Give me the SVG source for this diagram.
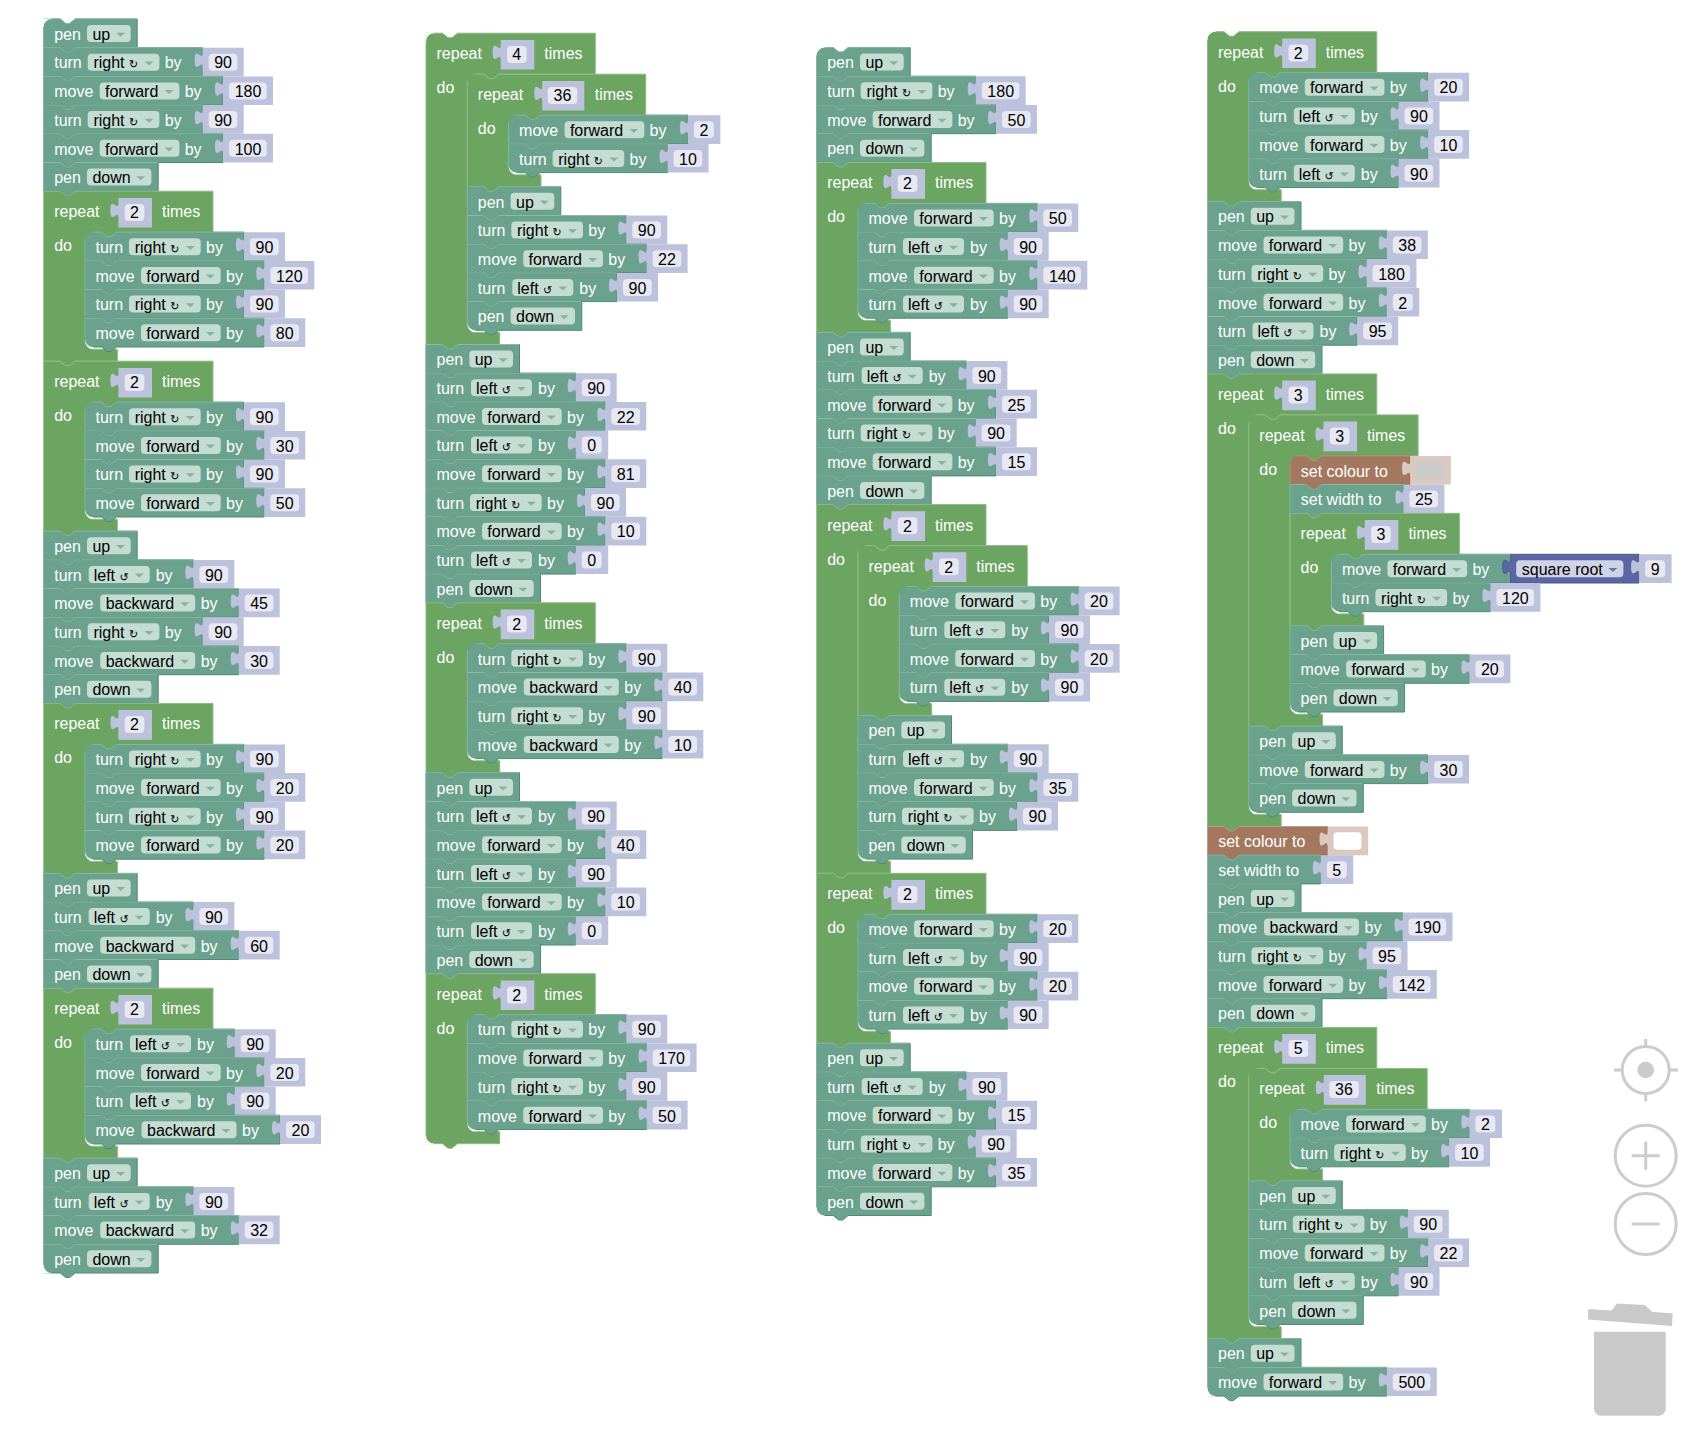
<svg xmlns="http://www.w3.org/2000/svg" width="1700" height="1436" viewBox="0 0 1700 1436">
<style>
text{font:16px "Liberation Sans","DejaVu Sans",sans-serif;fill:#fff}
.f{fill:#000}
.n{fill:#000;text-anchor:middle}
.r{font-size:11px}
.t{fill:#6aa28d;stroke:#4f8a75;stroke-width:1}
.b{fill:#a4785f;stroke:#8a5f48;stroke-width:1}
.l{fill:none;stroke:#8cb9a8;stroke-width:1}
.lb{fill:none;stroke:#bd9a86;stroke-width:1}
.c{fill:#6ca461;stroke:#8fbb86;stroke-width:1}
.i{fill:#bdc2dc}
.x{fill:#e7e8f2}
.d{fill:#c4dcd1}
.a{fill:#85b3a1}
.g{fill:#6ca461}
.w{fill:#fff}
.u{fill:#ccc}
.s{fill:none;stroke:#ccc;stroke-width:3}
</style>
<defs>
<g id="pu"><path class="t" d="M0-20.7H16.5l5.5 4.5h4l5.5-4.5H93.5V8H31.5l-5.5 4.5h-4l-5.5-4.5H0Z"/><path class="l" d="M0 8V-20.7H16.5l5.5 4.5h4l5.5-4.5H93"/><rect class="d" x="43.3" y="-14.7" width="43.7" height="17" rx="4"/><path class="a" d="M72.5-7h9l-4.5 4z"/></g>
<g id="pd"><path class="t" d="M0-20.7H16.5l5.5 4.5h4l5.5-4.5H114.5V8H31.5l-5.5 4.5h-4l-5.5-4.5H0Z"/><path class="l" d="M0 8V-20.7H16.5l5.5 4.5h4l5.5-4.5H114"/><rect class="d" x="43.3" y="-14.7" width="64.4" height="17" rx="4"/><path class="a" d="M92.5-7h9l-4.5 4z"/></g>
<g id="tr"><path class="t" d="M0-20.7H16.5l5.5 4.5h4l5.5-4.5H159V8H31.5l-5.5 4.5h-4l-5.5-4.5H0Z"/><path class="l" d="M0 8V-20.7H16.5l5.5 4.5h4l5.5-4.5H159"/><rect class="d" x="44" y="-14.7" width="71.7" height="17" rx="4"/><path class="a" d="M100.8-7h9l-4.5 4z"/></g>
<g id="tl"><path class="t" d="M0-20.7H16.5l5.5 4.5h4l5.5-4.5H149.7V8H31.5l-5.5 4.5h-4l-5.5-4.5H0Z"/><path class="l" d="M0 8V-20.7H16.5l5.5 4.5h4l5.5-4.5H149.7"/><rect class="d" x="45" y="-14.7" width="61" height="17" rx="4"/><path class="a" d="M91-7h9l-4.5 4z"/></g>
<g id="mf"><path class="t" d="M0-20.7H16.5l5.5 4.5h4l5.5-4.5H179.3V8H31.5l-5.5 4.5h-4l-5.5-4.5H0Z"/><path class="l" d="M0 8V-20.7H16.5l5.5 4.5h4l5.5-4.5H179.3"/><rect class="d" x="56" y="-14.7" width="79.7" height="17" rx="4"/><path class="a" d="M120.8-7h9l-4.5 4z"/></g>
<g id="mb"><path class="t" d="M0-20.7H16.5l5.5 4.5h4l5.5-4.5H195V8H31.5l-5.5 4.5h-4l-5.5-4.5H0Z"/><path class="l" d="M0 8V-20.7H16.5l5.5 4.5h4l5.5-4.5H195"/><rect class="d" x="56.5" y="-14.7" width="95" height="17" rx="4"/><path class="a" d="M136.5-7h9l-4.5 4z"/></g>
<g id="sw"><path class="t" d="M0-20.7H16.5l5.5 4.5h4l5.5-4.5H113.3V8H31.5l-5.5 4.5h-4l-5.5-4.5H0Z"/><path class="l" d="M0 8V-20.7H16.5l5.5 4.5h4l5.5-4.5H113.3"/></g>
<g id="sc"><path class="b" d="M0-20.7H16.5l5.5 4.5h4l5.5-4.5H120V8H31.5l-5.5 4.5h-4l-5.5-4.5H0Z"/><path class="lb" d="M0 8V-20.7H16.5l5.5 4.5h4l5.5-4.5H120"/><path fill="#dbc9bf" d="M160.7-20.7H120V-15.7c0 10-8-8-8 7.5s8-2.5 8 7.5V8H160.7Z"/></g>
<g id="v1"><path class="i" d="M32.5-20.7H0V-15.7c0 10-8-8-8 7.5s8-2.5 8 7.5V8H32.5Z"/><rect class="x" x="6" y="-14.7" width="20" height="17" rx="4"/></g>
<g id="v2"><path class="i" d="M41-20.7H0V-15.7c0 10-8-8-8 7.5s8-2.5 8 7.5V8H41Z"/><rect class="x" x="6" y="-14.7" width="28.7" height="17" rx="4"/></g>
<g id="v3"><path class="i" d="M50-20.7H0V-15.7c0 10-8-8-8 7.5s8-2.5 8 7.5V8H50Z"/><rect class="x" x="6" y="-14.7" width="37.7" height="17" rx="4"/></g>
<g id="r1"><path class="i" d="M33.6 6.7H0V11.7c0 10-8-8-8 7.5s8-2.5 8 7.5V36.4H33.6Z"/><rect class="x" x="6.3" y="12.7" width="19.7" height="17" rx="4"/></g>
<g id="r2"><path class="i" d="M42 6.7H0V11.7c0 10-8-8-8 7.5s8-2.5 8 7.5V36.4H42Z"/><rect class="x" x="5.4" y="12.7" width="29.6" height="17" rx="4"/></g>
<g id="tr2"><use href="#tr"/><use href="#v2" x="159"/></g>
<g id="tr3"><use href="#tr"/><use href="#v3" x="159"/></g>
<g id="tl1"><use href="#tl"/><use href="#v1" x="149.7"/></g>
<g id="tl2"><use href="#tl"/><use href="#v2" x="149.7"/></g>
<g id="mf1"><use href="#mf"/><use href="#v1" x="179.3"/></g>
<g id="mf2"><use href="#mf"/><use href="#v2" x="179.3"/></g>
<g id="mf3"><use href="#mf"/><use href="#v3" x="179.3"/></g>
<g id="mb2"><use href="#mb"/><use href="#v2" x="195"/></g>
<g id="mb3"><use href="#mb"/><use href="#v3" x="195"/></g>
<g id="sw1"><use href="#sw"/><use href="#v1" x="113.3"/></g>
<g id="sw2"><use href="#sw"/><use href="#v2" x="113.3"/></g>
<path id="tw" class="w" d="M-.6-12.7V-21.3H8V-20.7A8 8 0 0 0 0-12.7Z"/>
<path id="tg" class="g" d="M-.6-12.7V-21.3H8V-20.7A8 8 0 0 0 0-12.7Z"/>
<path id="bw" class="w" d="M-.6 0V8.6H8V8A8 8 0 0 1 0 0Z"/>
<g id="bg"><path class="g" d="M-.6 0V8.5H8A8 8 0 0 1 0 0Z"/><path class="w" d="M0 0A8 8 0 0 0 8 8V10A8 8 0 0 1 0 2Z"/></g>
</defs>
<rect width="1700" height="1436" fill="#fff"/>

<g id="stack1">
<g id="n1" transform="translate(43.7 39.7)"><use href="#pu"/><use href="#tw"/><text x="10.5">pen</text><text class="f" x="48.7">up</text></g>
<g id="n2" transform="translate(43.7 68.4)"><use href="#tr2"/><text x="10.5">turn</text><text class="f" x="49.7">right <tspan class="r">↻</tspan></text><text x="121">by</text><text class="n" x="179.4">90</text></g>
<g id="n3" transform="translate(43.7 97.1)"><use href="#mf3"/><text x="10.5">move</text><text class="f" x="61.3">forward</text><text x="141">by</text><text class="n" x="204.3">180</text></g>
<g id="n4" transform="translate(43.7 125.8)"><use href="#tr2"/><text x="10.5">turn</text><text class="f" x="49.7">right <tspan class="r">↻</tspan></text><text x="121">by</text><text class="n" x="179.4">90</text></g>
<g id="n5" transform="translate(43.7 154.5)"><use href="#mf3"/><text x="10.5">move</text><text class="f" x="61.3">forward</text><text x="141">by</text><text class="n" x="204.3">100</text></g>
<g id="n6" transform="translate(43.7 183.2)"><use href="#pd"/><text x="10.5">pen</text><text class="f" x="48.7">down</text></g>
<g id="n7" transform="translate(43.7 191.2)"><path class="c" d="M0 0H16.5l5.5 4.5h4l5.5-4.5H169.3V41H72.8l-5.5 4.5h-4l-5.5-4.5H49.3a8 8 0 0 0-8 8V150a8 8 0 0 0 8 8H73.7V170H31.5l-5.5 4.5h-4l-5.5-4.5H0Z"/><use href="#r1" x="74.7"/><text x="10.5" y="26">repeat</text><text class="n" x="90.8" y="27">2</text><text x="118.3" y="26">times</text><text x="10.5" y="60">do</text></g>
<g id="n8" transform="translate(85 252.9)"><use href="#tr2"/><use href="#tg"/><text x="10.5">turn</text><text class="f" x="49.7">right <tspan class="r">↻</tspan></text><text x="121">by</text><text class="n" x="179.4">90</text></g>
<g id="n9" transform="translate(85 281.6)"><use href="#mf3"/><text x="10.5">move</text><text class="f" x="61.3">forward</text><text x="141">by</text><text class="n" x="204.3">120</text></g>
<g id="n10" transform="translate(85 310.3)"><use href="#tr2"/><text x="10.5">turn</text><text class="f" x="49.7">right <tspan class="r">↻</tspan></text><text x="121">by</text><text class="n" x="179.4">90</text></g>
<g id="n11" transform="translate(85 339)"><use href="#mf2"/><use href="#bg"/><text x="10.5">move</text><text class="f" x="61.3">forward</text><text x="141">by</text><text class="n" x="199.7">80</text></g>
<g id="n12" transform="translate(43.7 361.2)"><path class="c" d="M0 0H16.5l5.5 4.5h4l5.5-4.5H169.3V41H72.8l-5.5 4.5h-4l-5.5-4.5H49.3a8 8 0 0 0-8 8V150a8 8 0 0 0 8 8H73.7V170H31.5l-5.5 4.5h-4l-5.5-4.5H0Z"/><use href="#r1" x="74.7"/><text x="10.5" y="26">repeat</text><text class="n" x="90.8" y="27">2</text><text x="118.3" y="26">times</text><text x="10.5" y="60">do</text></g>
<g id="n13" transform="translate(85 422.9)"><use href="#tr2"/><use href="#tg"/><text x="10.5">turn</text><text class="f" x="49.7">right <tspan class="r">↻</tspan></text><text x="121">by</text><text class="n" x="179.4">90</text></g>
<g id="n14" transform="translate(85 451.6)"><use href="#mf2"/><text x="10.5">move</text><text class="f" x="61.3">forward</text><text x="141">by</text><text class="n" x="199.7">30</text></g>
<g id="n15" transform="translate(85 480.3)"><use href="#tr2"/><text x="10.5">turn</text><text class="f" x="49.7">right <tspan class="r">↻</tspan></text><text x="121">by</text><text class="n" x="179.4">90</text></g>
<g id="n16" transform="translate(85 509)"><use href="#mf2"/><use href="#bg"/><text x="10.5">move</text><text class="f" x="61.3">forward</text><text x="141">by</text><text class="n" x="199.7">50</text></g>
<g id="n17" transform="translate(43.7 551.9)"><use href="#pu"/><text x="10.5">pen</text><text class="f" x="48.7">up</text></g>
<g id="n18" transform="translate(43.7 580.6)"><use href="#tl2"/><text x="10.5">turn</text><text class="f" x="50">left <tspan class="r">↺</tspan></text><text x="112">by</text><text class="n" x="170.1">90</text></g>
<g id="n19" transform="translate(43.7 609.3)"><use href="#mb2"/><text x="10.5">move</text><text class="f" x="62">backward</text><text x="157">by</text><text class="n" x="215.4">45</text></g>
<g id="n20" transform="translate(43.7 638)"><use href="#tr2"/><text x="10.5">turn</text><text class="f" x="49.7">right <tspan class="r">↻</tspan></text><text x="121">by</text><text class="n" x="179.4">90</text></g>
<g id="n21" transform="translate(43.7 666.7)"><use href="#mb2"/><text x="10.5">move</text><text class="f" x="62">backward</text><text x="157">by</text><text class="n" x="215.4">30</text></g>
<g id="n22" transform="translate(43.7 695.4)"><use href="#pd"/><text x="10.5">pen</text><text class="f" x="48.7">down</text></g>
<g id="n23" transform="translate(43.7 703.4)"><path class="c" d="M0 0H16.5l5.5 4.5h4l5.5-4.5H169.3V41H72.8l-5.5 4.5h-4l-5.5-4.5H49.3a8 8 0 0 0-8 8V150a8 8 0 0 0 8 8H73.7V170H31.5l-5.5 4.5h-4l-5.5-4.5H0Z"/><use href="#r1" x="74.7"/><text x="10.5" y="26">repeat</text><text class="n" x="90.8" y="27">2</text><text x="118.3" y="26">times</text><text x="10.5" y="60">do</text></g>
<g id="n24" transform="translate(85 765.1)"><use href="#tr2"/><use href="#tg"/><text x="10.5">turn</text><text class="f" x="49.7">right <tspan class="r">↻</tspan></text><text x="121">by</text><text class="n" x="179.4">90</text></g>
<g id="n25" transform="translate(85 793.8)"><use href="#mf2"/><text x="10.5">move</text><text class="f" x="61.3">forward</text><text x="141">by</text><text class="n" x="199.7">20</text></g>
<g id="n26" transform="translate(85 822.5)"><use href="#tr2"/><text x="10.5">turn</text><text class="f" x="49.7">right <tspan class="r">↻</tspan></text><text x="121">by</text><text class="n" x="179.4">90</text></g>
<g id="n27" transform="translate(85 851.2)"><use href="#mf2"/><use href="#bg"/><text x="10.5">move</text><text class="f" x="61.3">forward</text><text x="141">by</text><text class="n" x="199.7">20</text></g>
<g id="n28" transform="translate(43.7 894.1)"><use href="#pu"/><text x="10.5">pen</text><text class="f" x="48.7">up</text></g>
<g id="n29" transform="translate(43.7 922.8)"><use href="#tl2"/><text x="10.5">turn</text><text class="f" x="50">left <tspan class="r">↺</tspan></text><text x="112">by</text><text class="n" x="170.1">90</text></g>
<g id="n30" transform="translate(43.7 951.5)"><use href="#mb2"/><text x="10.5">move</text><text class="f" x="62">backward</text><text x="157">by</text><text class="n" x="215.4">60</text></g>
<g id="n31" transform="translate(43.7 980.2)"><use href="#pd"/><text x="10.5">pen</text><text class="f" x="48.7">down</text></g>
<g id="n32" transform="translate(43.7 988.2)"><path class="c" d="M0 0H16.5l5.5 4.5h4l5.5-4.5H169.3V41H72.8l-5.5 4.5h-4l-5.5-4.5H49.3a8 8 0 0 0-8 8V150a8 8 0 0 0 8 8H73.7V170H31.5l-5.5 4.5h-4l-5.5-4.5H0Z"/><use href="#r1" x="74.7"/><text x="10.5" y="26">repeat</text><text class="n" x="90.8" y="27">2</text><text x="118.3" y="26">times</text><text x="10.5" y="60">do</text></g>
<g id="n33" transform="translate(85 1049.9)"><use href="#tl2"/><use href="#tg"/><text x="10.5">turn</text><text class="f" x="50">left <tspan class="r">↺</tspan></text><text x="112">by</text><text class="n" x="170.1">90</text></g>
<g id="n34" transform="translate(85 1078.6)"><use href="#mf2"/><text x="10.5">move</text><text class="f" x="61.3">forward</text><text x="141">by</text><text class="n" x="199.7">20</text></g>
<g id="n35" transform="translate(85 1107.3)"><use href="#tl2"/><text x="10.5">turn</text><text class="f" x="50">left <tspan class="r">↺</tspan></text><text x="112">by</text><text class="n" x="170.1">90</text></g>
<g id="n36" transform="translate(85 1136)"><use href="#mb2"/><use href="#bg"/><text x="10.5">move</text><text class="f" x="62">backward</text><text x="157">by</text><text class="n" x="215.4">20</text></g>
<g id="n37" transform="translate(43.7 1178.9)"><use href="#pu"/><text x="10.5">pen</text><text class="f" x="48.7">up</text></g>
<g id="n38" transform="translate(43.7 1207.6)"><use href="#tl2"/><text x="10.5">turn</text><text class="f" x="50">left <tspan class="r">↺</tspan></text><text x="112">by</text><text class="n" x="170.1">90</text></g>
<g id="n39" transform="translate(43.7 1236.3)"><use href="#mb2"/><text x="10.5">move</text><text class="f" x="62">backward</text><text x="157">by</text><text class="n" x="215.4">32</text></g>
<g id="n40" transform="translate(43.7 1265)"><use href="#pd"/><use href="#bw"/><text x="10.5">pen</text><text class="f" x="48.7">down</text></g>
</g>

<g id="stack2">
<g id="n41" transform="translate(426 33.2)"><path class="c" d="M0 0H16.5l5.5 4.5h4l5.5-4.5H169.3V41H72.8l-5.5 4.5h-4l-5.5-4.5H49.3a8 8 0 0 0-8 8V291.3a8 8 0 0 0 8 8H73.7V311.3H31.5l-5.5 4.5h-4l-5.5-4.5H0Z"/><use href="#tw" y="20.7"/><use href="#r1" x="74.7"/><text x="10.5" y="26">repeat</text><text class="n" x="90.8" y="27">4</text><text x="118.3" y="26">times</text><text x="10.5" y="60">do</text></g>
<g id="n42" transform="translate(467.3 74.2)"><path class="c" d="M0 0H16.5l5.5 4.5h4l5.5-4.5H178.4V41H72.8l-5.5 4.5h-4l-5.5-4.5H49.3a8 8 0 0 0-8 8V92.6a8 8 0 0 0 8 8H73.7V112.6H31.5l-5.5 4.5h-4l-5.5-4.5H0Z"/><use href="#tg" y="20.7"/><use href="#r2" x="75"/><text x="10.5" y="26">repeat</text><text class="n" x="95.2" y="27">36</text><text x="127.4" y="26">times</text><text x="10.5" y="60">do</text></g>
<g id="n43" transform="translate(508.6 135.9)"><use href="#mf1"/><use href="#tg"/><text x="10.5">move</text><text class="f" x="61.3">forward</text><text x="141">by</text><text class="n" x="195.3">2</text></g>
<g id="n44" transform="translate(508.6 164.6)"><use href="#tr2"/><use href="#bg"/><text x="10.5">turn</text><text class="f" x="49.7">right <tspan class="r">↻</tspan></text><text x="121">by</text><text class="n" x="179.4">10</text></g>
<g id="n45" transform="translate(467.3 207.5)"><use href="#pu"/><text x="10.5">pen</text><text class="f" x="48.7">up</text></g>
<g id="n46" transform="translate(467.3 236.2)"><use href="#tr2"/><text x="10.5">turn</text><text class="f" x="49.7">right <tspan class="r">↻</tspan></text><text x="121">by</text><text class="n" x="179.4">90</text></g>
<g id="n47" transform="translate(467.3 264.9)"><use href="#mf2"/><text x="10.5">move</text><text class="f" x="61.3">forward</text><text x="141">by</text><text class="n" x="199.7">22</text></g>
<g id="n48" transform="translate(467.3 293.6)"><use href="#tl2"/><text x="10.5">turn</text><text class="f" x="50">left <tspan class="r">↺</tspan></text><text x="112">by</text><text class="n" x="170.1">90</text></g>
<g id="n49" transform="translate(467.3 322.3)"><use href="#pd"/><use href="#bg"/><text x="10.5">pen</text><text class="f" x="48.7">down</text></g>
<g id="n50" transform="translate(426 365.2)"><use href="#pu"/><text x="10.5">pen</text><text class="f" x="48.7">up</text></g>
<g id="n51" transform="translate(426 393.9)"><use href="#tl2"/><text x="10.5">turn</text><text class="f" x="50">left <tspan class="r">↺</tspan></text><text x="112">by</text><text class="n" x="170.1">90</text></g>
<g id="n52" transform="translate(426 422.6)"><use href="#mf2"/><text x="10.5">move</text><text class="f" x="61.3">forward</text><text x="141">by</text><text class="n" x="199.7">22</text></g>
<g id="n53" transform="translate(426 451.3)"><use href="#tl1"/><text x="10.5">turn</text><text class="f" x="50">left <tspan class="r">↺</tspan></text><text x="112">by</text><text class="n" x="165.7">0</text></g>
<g id="n54" transform="translate(426 480)"><use href="#mf2"/><text x="10.5">move</text><text class="f" x="61.3">forward</text><text x="141">by</text><text class="n" x="199.7">81</text></g>
<g id="n55" transform="translate(426 508.7)"><use href="#tr2"/><text x="10.5">turn</text><text class="f" x="49.7">right <tspan class="r">↻</tspan></text><text x="121">by</text><text class="n" x="179.4">90</text></g>
<g id="n56" transform="translate(426 537.4)"><use href="#mf2"/><text x="10.5">move</text><text class="f" x="61.3">forward</text><text x="141">by</text><text class="n" x="199.7">10</text></g>
<g id="n57" transform="translate(426 566.1)"><use href="#tl1"/><text x="10.5">turn</text><text class="f" x="50">left <tspan class="r">↺</tspan></text><text x="112">by</text><text class="n" x="165.7">0</text></g>
<g id="n58" transform="translate(426 594.8)"><use href="#pd"/><text x="10.5">pen</text><text class="f" x="48.7">down</text></g>
<g id="n59" transform="translate(426 602.8)"><path class="c" d="M0 0H16.5l5.5 4.5h4l5.5-4.5H169.3V41H72.8l-5.5 4.5h-4l-5.5-4.5H49.3a8 8 0 0 0-8 8V150a8 8 0 0 0 8 8H73.7V170H31.5l-5.5 4.5h-4l-5.5-4.5H0Z"/><use href="#r1" x="74.7"/><text x="10.5" y="26">repeat</text><text class="n" x="90.8" y="27">2</text><text x="118.3" y="26">times</text><text x="10.5" y="60">do</text></g>
<g id="n60" transform="translate(467.3 664.5)"><use href="#tr2"/><use href="#tg"/><text x="10.5">turn</text><text class="f" x="49.7">right <tspan class="r">↻</tspan></text><text x="121">by</text><text class="n" x="179.4">90</text></g>
<g id="n61" transform="translate(467.3 693.2)"><use href="#mb2"/><text x="10.5">move</text><text class="f" x="62">backward</text><text x="157">by</text><text class="n" x="215.4">40</text></g>
<g id="n62" transform="translate(467.3 721.9)"><use href="#tr2"/><text x="10.5">turn</text><text class="f" x="49.7">right <tspan class="r">↻</tspan></text><text x="121">by</text><text class="n" x="179.4">90</text></g>
<g id="n63" transform="translate(467.3 750.6)"><use href="#mb2"/><use href="#bg"/><text x="10.5">move</text><text class="f" x="62">backward</text><text x="157">by</text><text class="n" x="215.4">10</text></g>
<g id="n64" transform="translate(426 793.5)"><use href="#pu"/><text x="10.5">pen</text><text class="f" x="48.7">up</text></g>
<g id="n65" transform="translate(426 822.2)"><use href="#tl2"/><text x="10.5">turn</text><text class="f" x="50">left <tspan class="r">↺</tspan></text><text x="112">by</text><text class="n" x="170.1">90</text></g>
<g id="n66" transform="translate(426 850.9)"><use href="#mf2"/><text x="10.5">move</text><text class="f" x="61.3">forward</text><text x="141">by</text><text class="n" x="199.7">40</text></g>
<g id="n67" transform="translate(426 879.6)"><use href="#tl2"/><text x="10.5">turn</text><text class="f" x="50">left <tspan class="r">↺</tspan></text><text x="112">by</text><text class="n" x="170.1">90</text></g>
<g id="n68" transform="translate(426 908.3)"><use href="#mf2"/><text x="10.5">move</text><text class="f" x="61.3">forward</text><text x="141">by</text><text class="n" x="199.7">10</text></g>
<g id="n69" transform="translate(426 937)"><use href="#tl1"/><text x="10.5">turn</text><text class="f" x="50">left <tspan class="r">↺</tspan></text><text x="112">by</text><text class="n" x="165.7">0</text></g>
<g id="n70" transform="translate(426 965.7)"><use href="#pd"/><text x="10.5">pen</text><text class="f" x="48.7">down</text></g>
<g id="n71" transform="translate(426 973.7)"><path class="c" d="M0 0H16.5l5.5 4.5h4l5.5-4.5H169.3V41H72.8l-5.5 4.5h-4l-5.5-4.5H49.3a8 8 0 0 0-8 8V150a8 8 0 0 0 8 8H73.7V170H31.5l-5.5 4.5h-4l-5.5-4.5H0Z"/><use href="#bw" y="162"/><use href="#r1" x="74.7"/><text x="10.5" y="26">repeat</text><text class="n" x="90.8" y="27">2</text><text x="118.3" y="26">times</text><text x="10.5" y="60">do</text></g>
<g id="n72" transform="translate(467.3 1035.4)"><use href="#tr2"/><use href="#tg"/><text x="10.5">turn</text><text class="f" x="49.7">right <tspan class="r">↻</tspan></text><text x="121">by</text><text class="n" x="179.4">90</text></g>
<g id="n73" transform="translate(467.3 1064.1)"><use href="#mf3"/><text x="10.5">move</text><text class="f" x="61.3">forward</text><text x="141">by</text><text class="n" x="204.3">170</text></g>
<g id="n74" transform="translate(467.3 1092.8)"><use href="#tr2"/><text x="10.5">turn</text><text class="f" x="49.7">right <tspan class="r">↻</tspan></text><text x="121">by</text><text class="n" x="179.4">90</text></g>
<g id="n75" transform="translate(467.3 1121.5)"><use href="#mf2"/><use href="#bg"/><text x="10.5">move</text><text class="f" x="61.3">forward</text><text x="141">by</text><text class="n" x="199.7">50</text></g>
</g>

<g id="stack3">
<g id="n76" transform="translate(816.7 68.3)"><use href="#pu"/><use href="#tw"/><text x="10.5">pen</text><text class="f" x="48.7">up</text></g>
<g id="n77" transform="translate(816.7 97)"><use href="#tr3"/><text x="10.5">turn</text><text class="f" x="49.7">right <tspan class="r">↻</tspan></text><text x="121">by</text><text class="n" x="184">180</text></g>
<g id="n78" transform="translate(816.7 125.7)"><use href="#mf2"/><text x="10.5">move</text><text class="f" x="61.3">forward</text><text x="141">by</text><text class="n" x="199.7">50</text></g>
<g id="n79" transform="translate(816.7 154.4)"><use href="#pd"/><text x="10.5">pen</text><text class="f" x="48.7">down</text></g>
<g id="n80" transform="translate(816.7 162.4)"><path class="c" d="M0 0H16.5l5.5 4.5h4l5.5-4.5H169.3V41H72.8l-5.5 4.5h-4l-5.5-4.5H49.3a8 8 0 0 0-8 8V150a8 8 0 0 0 8 8H73.7V170H31.5l-5.5 4.5h-4l-5.5-4.5H0Z"/><use href="#r1" x="74.7"/><text x="10.5" y="26">repeat</text><text class="n" x="90.8" y="27">2</text><text x="118.3" y="26">times</text><text x="10.5" y="60">do</text></g>
<g id="n81" transform="translate(858 224.1)"><use href="#mf2"/><use href="#tg"/><text x="10.5">move</text><text class="f" x="61.3">forward</text><text x="141">by</text><text class="n" x="199.7">50</text></g>
<g id="n82" transform="translate(858 252.8)"><use href="#tl2"/><text x="10.5">turn</text><text class="f" x="50">left <tspan class="r">↺</tspan></text><text x="112">by</text><text class="n" x="170.1">90</text></g>
<g id="n83" transform="translate(858 281.5)"><use href="#mf3"/><text x="10.5">move</text><text class="f" x="61.3">forward</text><text x="141">by</text><text class="n" x="204.3">140</text></g>
<g id="n84" transform="translate(858 310.2)"><use href="#tl2"/><use href="#bg"/><text x="10.5">turn</text><text class="f" x="50">left <tspan class="r">↺</tspan></text><text x="112">by</text><text class="n" x="170.1">90</text></g>
<g id="n85" transform="translate(816.7 353.1)"><use href="#pu"/><text x="10.5">pen</text><text class="f" x="48.7">up</text></g>
<g id="n86" transform="translate(816.7 381.8)"><use href="#tl2"/><text x="10.5">turn</text><text class="f" x="50">left <tspan class="r">↺</tspan></text><text x="112">by</text><text class="n" x="170.1">90</text></g>
<g id="n87" transform="translate(816.7 410.5)"><use href="#mf2"/><text x="10.5">move</text><text class="f" x="61.3">forward</text><text x="141">by</text><text class="n" x="199.7">25</text></g>
<g id="n88" transform="translate(816.7 439.2)"><use href="#tr2"/><text x="10.5">turn</text><text class="f" x="49.7">right <tspan class="r">↻</tspan></text><text x="121">by</text><text class="n" x="179.4">90</text></g>
<g id="n89" transform="translate(816.7 467.9)"><use href="#mf2"/><text x="10.5">move</text><text class="f" x="61.3">forward</text><text x="141">by</text><text class="n" x="199.7">15</text></g>
<g id="n90" transform="translate(816.7 496.6)"><use href="#pd"/><text x="10.5">pen</text><text class="f" x="48.7">down</text></g>
<g id="n91" transform="translate(816.7 504.6)"><path class="c" d="M0 0H16.5l5.5 4.5h4l5.5-4.5H169.3V41H72.8l-5.5 4.5h-4l-5.5-4.5H49.3a8 8 0 0 0-8 8V348.7a8 8 0 0 0 8 8H73.7V368.7H31.5l-5.5 4.5h-4l-5.5-4.5H0Z"/><use href="#r1" x="74.7"/><text x="10.5" y="26">repeat</text><text class="n" x="90.8" y="27">2</text><text x="118.3" y="26">times</text><text x="10.5" y="60">do</text></g>
<g id="n92" transform="translate(858 545.6)"><path class="c" d="M0 0H16.5l5.5 4.5h4l5.5-4.5H169.3V41H72.8l-5.5 4.5h-4l-5.5-4.5H49.3a8 8 0 0 0-8 8V150a8 8 0 0 0 8 8H73.7V170H31.5l-5.5 4.5h-4l-5.5-4.5H0Z"/><use href="#tg" y="20.7"/><use href="#r1" x="74.7"/><text x="10.5" y="26">repeat</text><text class="n" x="90.8" y="27">2</text><text x="118.3" y="26">times</text><text x="10.5" y="60">do</text></g>
<g id="n93" transform="translate(899.3 607.3)"><use href="#mf2"/><use href="#tg"/><text x="10.5">move</text><text class="f" x="61.3">forward</text><text x="141">by</text><text class="n" x="199.7">20</text></g>
<g id="n94" transform="translate(899.3 636)"><use href="#tl2"/><text x="10.5">turn</text><text class="f" x="50">left <tspan class="r">↺</tspan></text><text x="112">by</text><text class="n" x="170.1">90</text></g>
<g id="n95" transform="translate(899.3 664.7)"><use href="#mf2"/><text x="10.5">move</text><text class="f" x="61.3">forward</text><text x="141">by</text><text class="n" x="199.7">20</text></g>
<g id="n96" transform="translate(899.3 693.4)"><use href="#tl2"/><use href="#bg"/><text x="10.5">turn</text><text class="f" x="50">left <tspan class="r">↺</tspan></text><text x="112">by</text><text class="n" x="170.1">90</text></g>
<g id="n97" transform="translate(858 736.3)"><use href="#pu"/><text x="10.5">pen</text><text class="f" x="48.7">up</text></g>
<g id="n98" transform="translate(858 765)"><use href="#tl2"/><text x="10.5">turn</text><text class="f" x="50">left <tspan class="r">↺</tspan></text><text x="112">by</text><text class="n" x="170.1">90</text></g>
<g id="n99" transform="translate(858 793.7)"><use href="#mf2"/><text x="10.5">move</text><text class="f" x="61.3">forward</text><text x="141">by</text><text class="n" x="199.7">35</text></g>
<g id="n100" transform="translate(858 822.4)"><use href="#tr2"/><text x="10.5">turn</text><text class="f" x="49.7">right <tspan class="r">↻</tspan></text><text x="121">by</text><text class="n" x="179.4">90</text></g>
<g id="n101" transform="translate(858 851.1)"><use href="#pd"/><use href="#bg"/><text x="10.5">pen</text><text class="f" x="48.7">down</text></g>
<g id="n102" transform="translate(816.7 873.3)"><path class="c" d="M0 0H16.5l5.5 4.5h4l5.5-4.5H169.3V41H72.8l-5.5 4.5h-4l-5.5-4.5H49.3a8 8 0 0 0-8 8V150a8 8 0 0 0 8 8H73.7V170H31.5l-5.5 4.5h-4l-5.5-4.5H0Z"/><use href="#r1" x="74.7"/><text x="10.5" y="26">repeat</text><text class="n" x="90.8" y="27">2</text><text x="118.3" y="26">times</text><text x="10.5" y="60">do</text></g>
<g id="n103" transform="translate(858 935)"><use href="#mf2"/><use href="#tg"/><text x="10.5">move</text><text class="f" x="61.3">forward</text><text x="141">by</text><text class="n" x="199.7">20</text></g>
<g id="n104" transform="translate(858 963.7)"><use href="#tl2"/><text x="10.5">turn</text><text class="f" x="50">left <tspan class="r">↺</tspan></text><text x="112">by</text><text class="n" x="170.1">90</text></g>
<g id="n105" transform="translate(858 992.4)"><use href="#mf2"/><text x="10.5">move</text><text class="f" x="61.3">forward</text><text x="141">by</text><text class="n" x="199.7">20</text></g>
<g id="n106" transform="translate(858 1021.1)"><use href="#tl2"/><use href="#bg"/><text x="10.5">turn</text><text class="f" x="50">left <tspan class="r">↺</tspan></text><text x="112">by</text><text class="n" x="170.1">90</text></g>
<g id="n107" transform="translate(816.7 1064)"><use href="#pu"/><text x="10.5">pen</text><text class="f" x="48.7">up</text></g>
<g id="n108" transform="translate(816.7 1092.7)"><use href="#tl2"/><text x="10.5">turn</text><text class="f" x="50">left <tspan class="r">↺</tspan></text><text x="112">by</text><text class="n" x="170.1">90</text></g>
<g id="n109" transform="translate(816.7 1121.4)"><use href="#mf2"/><text x="10.5">move</text><text class="f" x="61.3">forward</text><text x="141">by</text><text class="n" x="199.7">15</text></g>
<g id="n110" transform="translate(816.7 1150.1)"><use href="#tr2"/><text x="10.5">turn</text><text class="f" x="49.7">right <tspan class="r">↻</tspan></text><text x="121">by</text><text class="n" x="179.4">90</text></g>
<g id="n111" transform="translate(816.7 1178.8)"><use href="#mf2"/><text x="10.5">move</text><text class="f" x="61.3">forward</text><text x="141">by</text><text class="n" x="199.7">35</text></g>
<g id="n112" transform="translate(816.7 1207.5)"><use href="#pd"/><use href="#bw"/><text x="10.5">pen</text><text class="f" x="48.7">down</text></g>
</g>

<g id="stack4">
<g id="n113" transform="translate(1207.5 31.7)"><path class="c" d="M0 0H16.5l5.5 4.5h4l5.5-4.5H169.3V41H72.8l-5.5 4.5h-4l-5.5-4.5H49.3a8 8 0 0 0-8 8V150a8 8 0 0 0 8 8H73.7V170H31.5l-5.5 4.5h-4l-5.5-4.5H0Z"/><use href="#tw" y="20.7"/><use href="#r1" x="74.7"/><text x="10.5" y="26">repeat</text><text class="n" x="90.8" y="27">2</text><text x="118.3" y="26">times</text><text x="10.5" y="60">do</text></g>
<g id="n114" transform="translate(1248.8 93.4)"><use href="#mf2"/><use href="#tg"/><text x="10.5">move</text><text class="f" x="61.3">forward</text><text x="141">by</text><text class="n" x="199.7">20</text></g>
<g id="n115" transform="translate(1248.8 122.1)"><use href="#tl2"/><text x="10.5">turn</text><text class="f" x="50">left <tspan class="r">↺</tspan></text><text x="112">by</text><text class="n" x="170.1">90</text></g>
<g id="n116" transform="translate(1248.8 150.8)"><use href="#mf2"/><text x="10.5">move</text><text class="f" x="61.3">forward</text><text x="141">by</text><text class="n" x="199.7">10</text></g>
<g id="n117" transform="translate(1248.8 179.5)"><use href="#tl2"/><use href="#bg"/><text x="10.5">turn</text><text class="f" x="50">left <tspan class="r">↺</tspan></text><text x="112">by</text><text class="n" x="170.1">90</text></g>
<g id="n118" transform="translate(1207.5 222.4)"><use href="#pu"/><text x="10.5">pen</text><text class="f" x="48.7">up</text></g>
<g id="n119" transform="translate(1207.5 251.1)"><use href="#mf2"/><text x="10.5">move</text><text class="f" x="61.3">forward</text><text x="141">by</text><text class="n" x="199.7">38</text></g>
<g id="n120" transform="translate(1207.5 279.8)"><use href="#tr3"/><text x="10.5">turn</text><text class="f" x="49.7">right <tspan class="r">↻</tspan></text><text x="121">by</text><text class="n" x="184">180</text></g>
<g id="n121" transform="translate(1207.5 308.5)"><use href="#mf1"/><text x="10.5">move</text><text class="f" x="61.3">forward</text><text x="141">by</text><text class="n" x="195.3">2</text></g>
<g id="n122" transform="translate(1207.5 337.2)"><use href="#tl2"/><text x="10.5">turn</text><text class="f" x="50">left <tspan class="r">↺</tspan></text><text x="112">by</text><text class="n" x="170.1">95</text></g>
<g id="n123" transform="translate(1207.5 365.9)"><use href="#pd"/><text x="10.5">pen</text><text class="f" x="48.7">down</text></g>
<g id="n124" transform="translate(1207.5 373.9)"><path class="c" d="M0 0H16.5l5.5 4.5h4l5.5-4.5H169.3V41H72.8l-5.5 4.5h-4l-5.5-4.5H49.3a8 8 0 0 0-8 8V432.6a8 8 0 0 0 8 8H73.7V452.6H31.5l-5.5 4.5h-4l-5.5-4.5H0Z"/><use href="#r1" x="74.7"/><text x="10.5" y="26">repeat</text><text class="n" x="90.8" y="27">3</text><text x="118.3" y="26">times</text><text x="10.5" y="60">do</text></g>
<g id="n125" transform="translate(1248.8 414.9)"><path class="c" d="M0 0H16.5l5.5 4.5h4l5.5-4.5H169.3V41H72.8l-5.5 4.5h-4l-5.5-4.5H49.3a8 8 0 0 0-8 8V291.3a8 8 0 0 0 8 8H73.7V311.3H31.5l-5.5 4.5h-4l-5.5-4.5H0Z"/><use href="#tg" y="20.7"/><use href="#r1" x="74.7"/><text x="10.5" y="26">repeat</text><text class="n" x="90.8" y="27">3</text><text x="118.3" y="26">times</text><text x="10.5" y="60">do</text></g>
<g id="n126" transform="translate(1290.1 476.6)"><use href="#sc"/><use href="#tg"/><rect class="u" x="126" y="-15" width="28" height="17.5" rx="4"/><text x="10.7">set colour to</text></g>
<g id="n127" transform="translate(1290.1 505.3)"><use href="#sw2"/><text x="10.7">set width to</text><text class="n" x="133.7">25</text></g>
<g id="n128" transform="translate(1290.1 513.3)"><path class="c" d="M0 0H16.5l5.5 4.5h4l5.5-4.5H169.3V41H72.8l-5.5 4.5h-4l-5.5-4.5H49.3a8 8 0 0 0-8 8V92.6a8 8 0 0 0 8 8H73.7V112.6H31.5l-5.5 4.5h-4l-5.5-4.5H0Z"/><use href="#r1" x="74.7"/><text x="10.5" y="26">repeat</text><text class="n" x="90.8" y="27">3</text><text x="118.3" y="26">times</text><text x="10.5" y="60">do</text></g>
<g id="n129" transform="translate(1331.4 575)"><use href="#mf"/><use href="#tg"/><text x="10.5">move</text><text class="f" x="61.3">forward</text><text x="141">by</text><path fill="#5b67a5" stroke="#4c5790" d="M307.7-20.7H179.3V-15.7c0 10-8-8-8 7.5s8-2.5 8 7.5V8H307.7Z"/><rect x="184.8" y="-14.7" width="107.2" height="17" rx="4" fill="#d0d3e6"/><path fill="#6c77b2" d="M277-7h9l-4.5 4z"/><use href="#v1" x="307.7"/><text class="f" x="190.4">square root</text><text class="n" x="323.7">9</text></g>
<g id="n130" transform="translate(1331.4 603.7)"><use href="#tr3"/><use href="#bg"/><text x="10.5">turn</text><text class="f" x="49.7">right <tspan class="r">↻</tspan></text><text x="121">by</text><text class="n" x="184">120</text></g>
<g id="n131" transform="translate(1290.1 646.6)"><use href="#pu"/><text x="10.5">pen</text><text class="f" x="48.7">up</text></g>
<g id="n132" transform="translate(1290.1 675.3)"><use href="#mf2"/><text x="10.5">move</text><text class="f" x="61.3">forward</text><text x="141">by</text><text class="n" x="199.7">20</text></g>
<g id="n133" transform="translate(1290.1 704)"><use href="#pd"/><use href="#bg"/><text x="10.5">pen</text><text class="f" x="48.7">down</text></g>
<g id="n134" transform="translate(1248.8 746.9)"><use href="#pu"/><text x="10.5">pen</text><text class="f" x="48.7">up</text></g>
<g id="n135" transform="translate(1248.8 775.6)"><use href="#mf2"/><text x="10.5">move</text><text class="f" x="61.3">forward</text><text x="141">by</text><text class="n" x="199.7">30</text></g>
<g id="n136" transform="translate(1248.8 804.3)"><use href="#pd"/><use href="#bg"/><text x="10.5">pen</text><text class="f" x="48.7">down</text></g>
<g id="n137" transform="translate(1207.5 847.2)"><use href="#sc"/><rect class="w" x="126" y="-15" width="28" height="17.5" rx="4"/><text x="10.7">set colour to</text></g>
<g id="n138" transform="translate(1207.5 875.9)"><use href="#sw1"/><text x="10.7">set width to</text><text class="n" x="129.3">5</text></g>
<g id="n139" transform="translate(1207.5 904.6)"><use href="#pu"/><text x="10.5">pen</text><text class="f" x="48.7">up</text></g>
<g id="n140" transform="translate(1207.5 933.3)"><use href="#mb3"/><text x="10.5">move</text><text class="f" x="62">backward</text><text x="157">by</text><text class="n" x="220">190</text></g>
<g id="n141" transform="translate(1207.5 962)"><use href="#tr2"/><text x="10.5">turn</text><text class="f" x="49.7">right <tspan class="r">↻</tspan></text><text x="121">by</text><text class="n" x="179.4">95</text></g>
<g id="n142" transform="translate(1207.5 990.7)"><use href="#mf3"/><text x="10.5">move</text><text class="f" x="61.3">forward</text><text x="141">by</text><text class="n" x="204.3">142</text></g>
<g id="n143" transform="translate(1207.5 1019.4)"><use href="#pd"/><text x="10.5">pen</text><text class="f" x="48.7">down</text></g>
<g id="n144" transform="translate(1207.5 1027.4)"><path class="c" d="M0 0H16.5l5.5 4.5h4l5.5-4.5H169.3V41H72.8l-5.5 4.5h-4l-5.5-4.5H49.3a8 8 0 0 0-8 8V291.3a8 8 0 0 0 8 8H73.7V311.3H31.5l-5.5 4.5h-4l-5.5-4.5H0Z"/><use href="#r1" x="74.7"/><text x="10.5" y="26">repeat</text><text class="n" x="90.8" y="27">5</text><text x="118.3" y="26">times</text><text x="10.5" y="60">do</text></g>
<g id="n145" transform="translate(1248.8 1068.4)"><path class="c" d="M0 0H16.5l5.5 4.5h4l5.5-4.5H178.4V41H72.8l-5.5 4.5h-4l-5.5-4.5H49.3a8 8 0 0 0-8 8V92.6a8 8 0 0 0 8 8H73.7V112.6H31.5l-5.5 4.5h-4l-5.5-4.5H0Z"/><use href="#tg" y="20.7"/><use href="#r2" x="75"/><text x="10.5" y="26">repeat</text><text class="n" x="95.2" y="27">36</text><text x="127.4" y="26">times</text><text x="10.5" y="60">do</text></g>
<g id="n146" transform="translate(1290.1 1130.1)"><use href="#mf1"/><use href="#tg"/><text x="10.5">move</text><text class="f" x="61.3">forward</text><text x="141">by</text><text class="n" x="195.3">2</text></g>
<g id="n147" transform="translate(1290.1 1158.8)"><use href="#tr2"/><use href="#bg"/><text x="10.5">turn</text><text class="f" x="49.7">right <tspan class="r">↻</tspan></text><text x="121">by</text><text class="n" x="179.4">10</text></g>
<g id="n148" transform="translate(1248.8 1201.7)"><use href="#pu"/><text x="10.5">pen</text><text class="f" x="48.7">up</text></g>
<g id="n149" transform="translate(1248.8 1230.4)"><use href="#tr2"/><text x="10.5">turn</text><text class="f" x="49.7">right <tspan class="r">↻</tspan></text><text x="121">by</text><text class="n" x="179.4">90</text></g>
<g id="n150" transform="translate(1248.8 1259.1)"><use href="#mf2"/><text x="10.5">move</text><text class="f" x="61.3">forward</text><text x="141">by</text><text class="n" x="199.7">22</text></g>
<g id="n151" transform="translate(1248.8 1287.8)"><use href="#tl2"/><text x="10.5">turn</text><text class="f" x="50">left <tspan class="r">↺</tspan></text><text x="112">by</text><text class="n" x="170.1">90</text></g>
<g id="n152" transform="translate(1248.8 1316.5)"><use href="#pd"/><use href="#bg"/><text x="10.5">pen</text><text class="f" x="48.7">down</text></g>
<g id="n153" transform="translate(1207.5 1359.4)"><use href="#pu"/><text x="10.5">pen</text><text class="f" x="48.7">up</text></g>
<g id="n154" transform="translate(1207.5 1388.1)"><use href="#mf3"/><use href="#bw"/><text x="10.5">move</text><text class="f" x="61.3">forward</text><text x="141">by</text><text class="n" x="204.3">500</text></g>
</g>

<g id="controls">
<g id="centre"><circle class="s" cx="1645.7" cy="1070" r="23.5"/><circle class="u" cx="1645.7" cy="1070" r="8.3"/><path class="s" d="M1645.7 1039V1046.5M1645.7 1093.5V1101.5M1614 1070H1622M1669 1070H1678"/></g>
<g id="zoomin"><circle class="s" cx="1645.7" cy="1155.7" r="30.5"/><path class="s" d="M1631.7 1155.7H1659.7M1645.7 1141.7V1169.7"/></g>
<g id="zoomout"><circle class="s" cx="1645.7" cy="1224" r="30.5"/><path class="s" d="M1631.7 1224H1659.7"/></g>
<g id="trash"><path fill="#c9c9c9" d="M1594 1331.7H1665.7V1408.7a7 7 0 0 1-7 7H1601a7 7 0 0 1-7-7Z"/><path fill="#c9c9c9" d="M1588.3 1309L1611.7 1310.5L1617 1303.5L1645 1305L1652 1311.7L1672.7 1313.5L1672 1326L1588 1319.5Z"/></g>
</g>
</svg>
